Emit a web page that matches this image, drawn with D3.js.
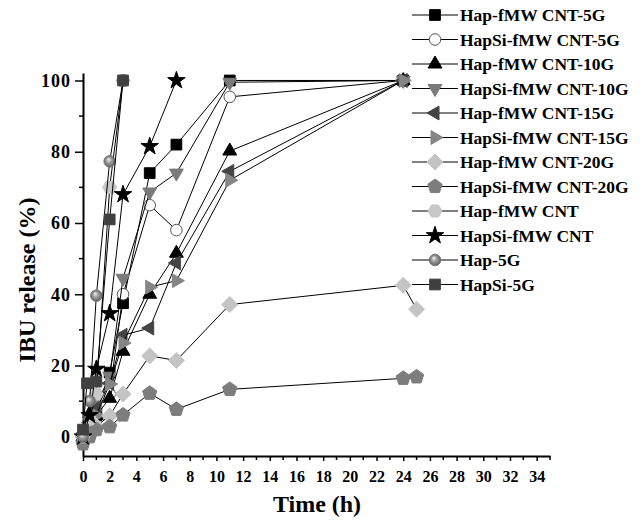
<!DOCTYPE html>
<html>
<head>
<meta charset="utf-8">
<script src="https://cdn.jsdelivr.net/npm/d3@7"></script>
<style>
  body { margin: 0; background: #fff; }
  svg text { font-family: "Liberation Serif", "Times New Roman", serif; font-weight: bold; fill: #000; }
</style>
</head>
<body>
<svg id="chart"></svg>
<script>
const w = 643;
const h = 520;
const svg = d3.select("#chart").attr("width", w).attr("height", h);

// data (time in h, release in %)
const seriesNames = ["Hap-fMW CNT-5G", "HapSi-fMW CNT-5G", "Hap-fMW CNT-10G", "HapSi-fMW CNT-10G",
  "Hap-fMW CNT-15G", "HapSi-fMW CNT-15G", "Hap-fMW CNT-20G", "HapSi-fMW CNT-20G",
  "Hap-fMW CNT", "HapSi-fMW CNT", "Hap-5G", "HapSi-5G"];

const timeLong = [0, 0.5, 1, 2, 3, 5, 7, 11, 24];
const timeLong25 = [0, 0.5, 1, 2, 3, 5, 7, 11, 24, 25];
const timeCnt = [0, 0.5, 1, 2, 3, 5, 7];
const timeShort = [0, 0.5, 1, 2, 3];
const timeSi5G = [0, 0.3, 1, 2, 3];

const hapCnt5G = [0, 5, 6, 18, 37.5, 74, 82, 100, 100];
const hapSiCnt5G = [0, 4, 8, 12, 40, 65, 58, 95.4, 100];
const hapCnt10G = [0, 6.5, 6, 10.8, 24, 40, 51.5, 80.2, 100];
const hapSiCnt10G = [0, 5, 9, 17, 44.5, 68.7, 74, 99.5, 100];
const hapCnt15G = [0, 4, 8, 15, 28.5, 30.5, 48.8, 74.5, 100];
const hapSiCnt15G = [0, 3, 6, 14.8, 26.3, 42, 43.8, 72, 100];
const hapCnt20G = [0, 1, 3, 5.9, 12, 22.7, 21.4, 37.1, 42.5, 35.8];
const hapSiCnt20G = [-2, 0, 2, 2.8, 6.1, 12.2, 7.7, 13.3, 16.4, 16.8];
const hapCnt = [0, 5, 12, 70, 100];
const hapSiCnt = [0, 6, 19, 34.6, 68, 81.5, 100];
const hap5G = [0, 10, 39.6, 77.3, 100];
const hapSi5G = [2, 15, 15.5, 61, 100];

const xTicks = d3.range(0, 35, 2);
const xMinor = d3.range(1, 36, 2);
const yTicks = [0, 20, 40, 60, 80, 100];
const yMinor = [10, 30, 50, 70, 90];

const seriesData = [
  [timeLong, hapCnt5G], [timeLong, hapSiCnt5G], [timeLong, hapCnt10G], [timeLong, hapSiCnt10G],
  [timeLong, hapCnt15G], [timeLong, hapSiCnt15G], [timeLong25, hapCnt20G], [timeLong25, hapSiCnt20G],
  [timeShort, hapCnt], [timeCnt, hapSiCnt], [timeShort, hap5G], [timeSi5G, hapSi5G]
];

// marker styles
function poly(n, r, rot) {
  const pts = d3.range(n).map(i => {
    const a = rot + i * 2 * Math.PI / n;
    return [r * Math.sin(a), -r * Math.cos(a)];
  });
  return "M" + pts.map(p => p.join(",")).join("L") + "Z";
}
const sym = (type, size) => d3.symbol().type(type).size(size)();
const styles = [
  { d: sym(d3.symbolSquare, 115), fill: "#000", stroke: "#000" },
  { d: sym(d3.symbolCircle, 105), fill: "#fff", stroke: "#555" },
  { d: poly(3, 8, 0), fill: "#000", stroke: "#000" },
  { d: poly(3, 8, Math.PI), fill: "#7a7a7a", stroke: "#7a7a7a" },
  { d: poly(3, 8, -Math.PI / 2), fill: "#444", stroke: "#444" },
  { d: poly(3, 8, Math.PI / 2), fill: "#858585", stroke: "#858585" },
  { d: poly(4, 8, 0), fill: "#c4c4c4", stroke: "#c4c4c4" },
  { d: poly(5, 7.5, 0), fill: "#7d7d7d", stroke: "#7d7d7d" },
  { d: poly(6, 7, Math.PI / 6), fill: "#c8c8c8", stroke: "#c8c8c8" },
  { d: sym(d3.symbolStar, 95), fill: "#000", stroke: "#000" },
  { d: sym(d3.symbolCircle, 105), fill: "url(#sphere)", stroke: "#777" },
  { d: sym(d3.symbolSquare, 115), fill: "#404040", stroke: "#404040" }
];

const defs = svg.append("defs");
const grad = defs.append("radialGradient").attr("id", "sphere")
  .attr("cx", "50%").attr("cy", "50%").attr("r", "55%").attr("fx", "38%").attr("fy", "32%");
grad.append("stop").attr("offset", "0%").attr("stop-color", "#f4f4f4");
grad.append("stop").attr("offset", "45%").attr("stop-color", "#9a9a9a");
grad.append("stop").attr("offset", "100%").attr("stop-color", "#5a5a5a");

// scales
const x = d3.scaleLinear().domain([0, 35]).range([83, 550]);
const y = d3.scaleLinear().domain([-5.4, 102.1]).range([456, 73]);

// axes
const xAxis = svg.append("g").attr("transform", `translate(0,${y.range()[0]})`)
  .call(d3.axisBottom(x).tickValues(xTicks).tickSize(5).tickSizeOuter(0).tickPadding(10));
xAxis.append("g").selectAll("line").data(xMinor).join("line")
  .attr("x1", d => x(d)).attr("x2", d => x(d)).attr("y1", 0).attr("y2", 4).attr("stroke", "#000").attr("stroke-width", 1.5);
xAxis.selectAll(".tick text").style("font-size", "16px").style("font-family", null);

const yAxis = svg.append("g").attr("transform", `translate(${x.range()[0]},0)`)
  .call(d3.axisLeft(y).tickValues(yTicks).tickSize(8).tickSizeOuter(0).tickPadding(4));
yAxis.append("g").selectAll("line").data(yMinor).join("line")
  .attr("x1", 0).attr("x2", -4).attr("y1", d => y(d)).attr("y2", d => y(d)).attr("stroke", "#000").attr("stroke-width", 1.5);
yAxis.selectAll(".tick text").style("font-size", "18px").style("font-family", null).attr("letter-spacing", "1");

svg.selectAll(".domain").attr("stroke", "#000").attr("stroke-width", 2);
svg.selectAll(".tick line").attr("stroke", "#000").attr("stroke-width", 1.5);

// axis titles
svg.append("text").attr("x", 317).attr("y", 512).attr("text-anchor", "middle")
  .style("font-size", "24px").text("Time (h)");
svg.append("text").attr("transform", "translate(35,280) rotate(-90)").attr("text-anchor", "middle")
  .style("font-size", "24px").text("IBU release (%)");

// series
const line = d3.line().x(d => x(d[0])).y(d => y(d[1]));
seriesData.forEach(([ts, vs], i) => {
  const pts = ts.map((t, k) => [t, vs[k]]);
  const g = svg.append("g");
  g.append("path").datum(pts).attr("d", line)
    .attr("fill", "none").attr("stroke", "#000").attr("stroke-width", 1);
  g.selectAll("path.m").data(pts).join("path").attr("class", "m")
    .attr("transform", d => `translate(${x(d[0])},${y(d[1])})`)
    .attr("d", styles[i].d).attr("fill", styles[i].fill)
    .attr("stroke", styles[i].stroke).attr("stroke-width", 1);
});

// legend
const legend = svg.append("g").attr("transform", "translate(412,15)");
seriesNames.forEach((name, i) => {
  const row = legend.append("g").attr("transform", `translate(0,${i * 24.5})`);
  row.append("line").attr("x1", 0).attr("x2", 46).attr("stroke", "#000").attr("stroke-width", 1);
  row.append("path").attr("transform", "translate(23,0)").attr("d", styles[i].d)
    .attr("fill", styles[i].fill).attr("stroke", styles[i].stroke).attr("stroke-width", 1);
  row.append("text").attr("x", 48).attr("y", 6).style("font-size", "17.5px").text(name);
});
</script>
</body>
</html>
